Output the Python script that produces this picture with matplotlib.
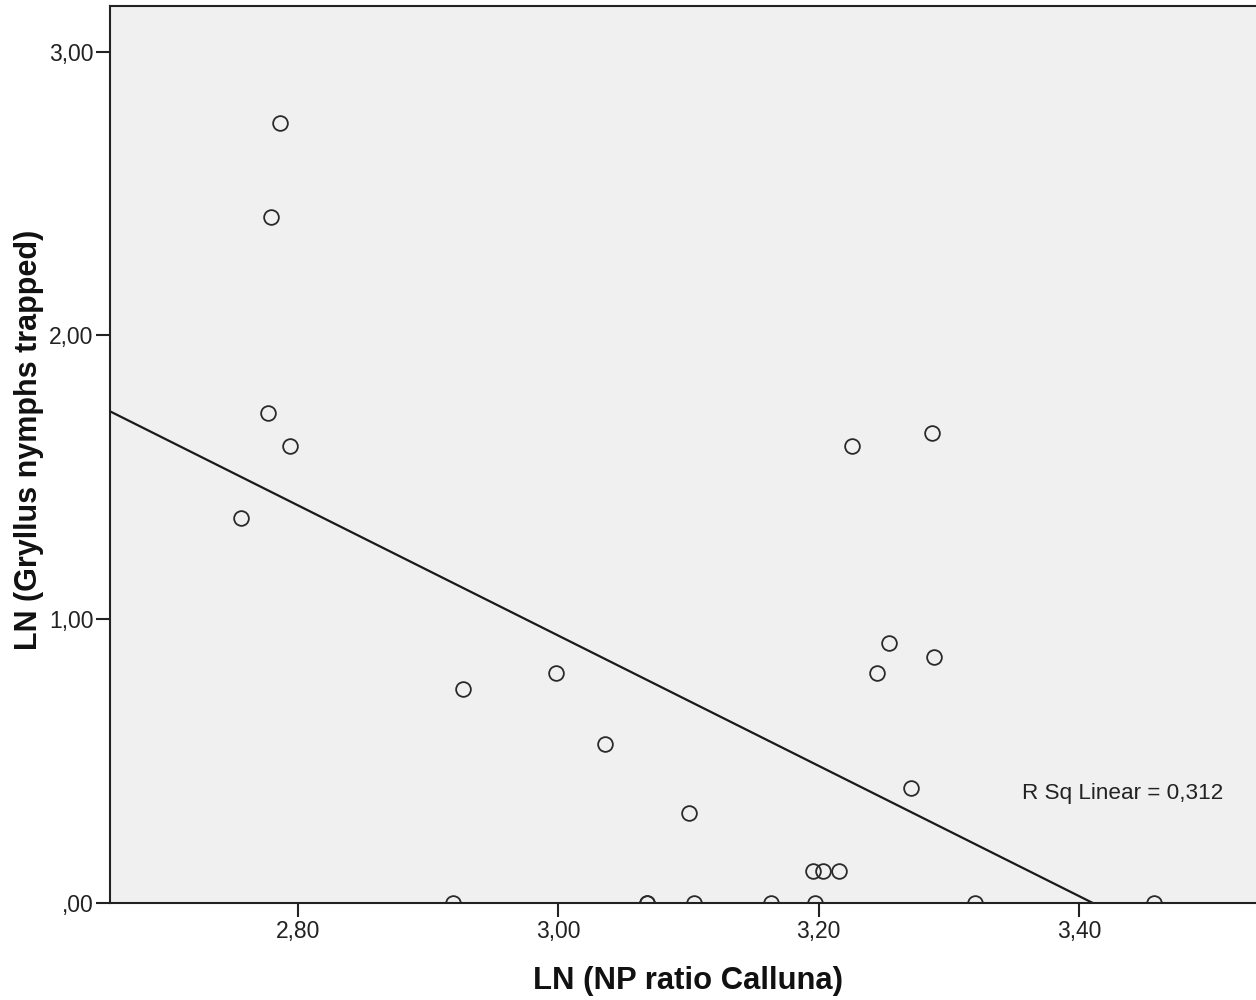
import numpy as np
import matplotlib
matplotlib.use("Agg")
import matplotlib.pyplot as plt
from matplotlib.ticker import FuncFormatter

plt.rcParams['font.family'] = ['Liberation Sans', 'DejaVu Sans']

# Data
ln_np_ratio = [2.7864, 2.7795, 2.7772, 2.7941, 2.7565, 2.9270, 2.9980, 3.0360,
               3.1005, 3.2257, 3.2870, 3.2540, 3.2450, 3.2888, 3.2710, 3.1960,
               3.2035, 3.2160, 2.9193, 3.0683, 3.0683, 3.1044, 3.1635, 3.1973,
               3.3202, 3.4577]
ln_gryllus = [2.750, 2.419, 1.725, 1.609, 1.356, 0.754, 0.810, 0.560,
              0.317, 1.609, 1.658, 0.915, 0.810, 0.866, 0.405, 0.114,
              0.114, 0.114, 0.0, 0.0, 0.0, 0.0, 0.0, 0.0,
              0.0, 0.0]
x_ticks = [2.80, 3.00, 3.20, 3.40]
y_ticks = [0.0, 1.0, 2.0, 3.0]
r2_label = "R Sq Linear = 0,312"
x_label = "LN (NP ratio Calluna)"
y_label = "LN (Gryllus nymphs trapped)"

x = np.array(ln_np_ratio)
y = np.array(ln_gryllus)
slope, intercept = np.polyfit(x, y, 1)

fig = plt.figure(figsize=(12.56, 10), dpi=100)
ax = fig.add_axes([110/1256, 97/1000, 1146/1256, 897/1000])
ax.set_facecolor('#F0F0F0')

xlim = (2.6558, 3.536)
ylim = (0.0, 3.161)
ax.set_xlim(*xlim)
ax.set_ylim(*ylim)

ax.plot(x, y, linestyle='none', marker='o', markersize=10.6,
        markerfacecolor='none', markeredgecolor='#2a2a2a', markeredgewidth=1.3)

xl = np.array(xlim)
ax.plot(xl, intercept + slope * xl, color='#1a1a1a', linewidth=1.6)

ax.text(3.3563, 0.387, r2_label, ha='left', va='center', fontsize=16.2, color='#222222')

def fmt(v, pos):
    s = f"{v:.2f}".replace('.', ',')
    if s.startswith('0,'):
        s = s[1:]
    return s

ax.set_xticks(x_ticks)
ax.set_yticks(y_ticks)
ax.xaxis.set_major_formatter(FuncFormatter(fmt))
ax.yaxis.set_major_formatter(FuncFormatter(fmt))
ax.tick_params(axis='both', direction='out', length=10, width=1.5,
               color='#222222', labelsize=16.5, labelcolor='#222222', pad=2)

for side in ['left', 'bottom', 'top']:
    ax.spines[side].set_linewidth(1.5)
    ax.spines[side].set_color('#222222')
ax.spines['right'].set_visible(False)

ax.set_xlabel(x_label, fontsize=22.3, fontweight='bold', color='#111111')
ax.set_ylabel(y_label, fontsize=22, fontweight='bold', color='#111111')
ax.xaxis.set_label_coords(0.5044, -0.0702)
ax.yaxis.set_label_coords(-0.058, 0.516)

fig.savefig('out.png', dpi=100)
